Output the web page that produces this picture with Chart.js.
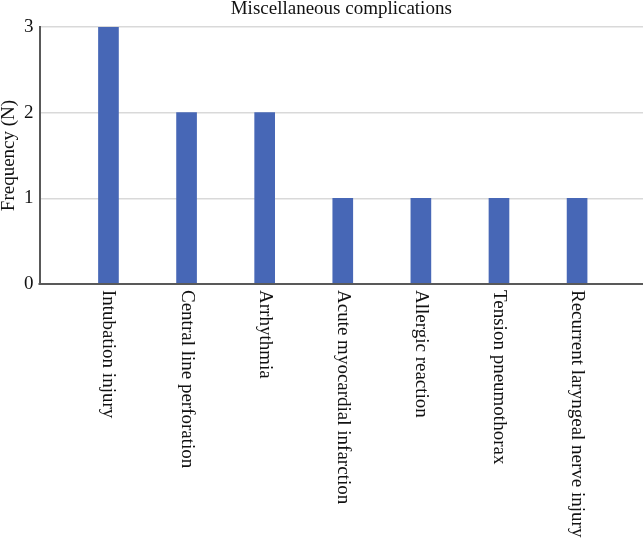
<!DOCTYPE html>
<html>
<head>
<meta charset="utf-8">
<script src="https://cdn.jsdelivr.net/npm/chart.js@4/dist/chart.umd.min.js"></script>
<style>
  html, body { margin: 0; padding: 0; background: #ffffff; }
  #wrap { width: 643px; height: 542px; position: relative; }
</style>
</head>
<body>
<div id="wrap"><canvas id="chart"></canvas></div>
<script>
const chartTitle = "Miscellaneous complications";
const yTitle = "Frequency (N)";
const categories = [
  "Intubation injury",
  "Central line perforation",
  "Arrhythmia",
  "Acute myocardial infarction",
  "Allergic reaction",
  "Tension pneumothorax",
  "Recurrent laryngeal nerve injury"
];
const frequencies = [3, 2, 2, 1, 1, 1, 1];
const yTicks = [0, 1, 2, 3];

const SERIF = "'Liberation Serif', 'DejaVu Serif', serif";
const AXIS_DARK = "#595959";

// draws the title, the rotated category labels and the dark x axis line
const extras = {
  id: "extras",
  afterDatasetsDraw(chart) {
    const { ctx, chartArea, scales } = chart;
    const x = scales.x, y = scales.y;
    ctx.save();

    const y0 = y.getPixelForValue(0);
    ctx.strokeStyle = AXIS_DARK;
    ctx.lineWidth = 2;
    ctx.beginPath();
    ctx.moveTo(chartArea.left - 1, y0);
    ctx.lineTo(chartArea.right, y0);
    ctx.stroke();

    ctx.fillStyle = "#111111";
    ctx.font = "19px " + SERIF;
    ctx.textAlign = "center";
    ctx.textBaseline = "alphabetic";
    ctx.fillText(chartTitle, (chartArea.left + chartArea.right) / 2, 14);

    ctx.textAlign = "left";
    ctx.textBaseline = "middle";
    categories.forEach((label, i) => {
      const px = x.getPixelForValue(i);
      ctx.save();
      ctx.translate(px, y0 + 6);
      ctx.rotate(Math.PI / 2);
      ctx.fillText(label, 0, 0);
      ctx.restore();
    });
    ctx.restore();
  }
};

new Chart(document.getElementById("chart"), {
  type: "bar",
  data: {
    datasets: [{
      data: categories.map((c, i) => ({ x: i, y: frequencies[i] })),
      backgroundColor: "#4767b6",
      borderWidth: 0,
      barThickness: 20
    }]
  },
  options: {
    responsive: true,
    maintainAspectRatio: false,
    animation: false,
    layout: { padding: { top: 27, left: 0, right: 0, bottom: 0 } },
    plugins: {
      legend: { display: false },
      tooltip: { enabled: false },
      title: { display: false }
    },
    scales: {
      x: {
        type: "linear",
        offset: false,
        min: -0.883,
        max: 6.844,
        grid: { display: false },
        border: { display: false },
        ticks: { display: false },
        afterFit(scale) { scale.height = 258; }
      },
      y: {
        min: 0,
        max: 3,
        afterBuildTicks(scale) { scale.ticks = yTicks.map(v => ({ value: v })); },
        afterFit(scale) { scale.width = 39.5; },
        grid: { color: "#d9d9d9", lineWidth: 1.5, drawTicks: false },
        border: { display: true, color: AXIS_DARK, width: 2 },
        ticks: {
          padding: 6,
          color: "#111111",
          font: { family: SERIF, size: 19 }
        },
        title: {
          display: true,
          text: yTitle,
          color: "#111111",
          padding: 0,
          font: { family: SERIF, size: 19, lineHeight: 1 }
        }
      }
    }
  },
  plugins: [extras]
});
</script>
</body>
</html>
